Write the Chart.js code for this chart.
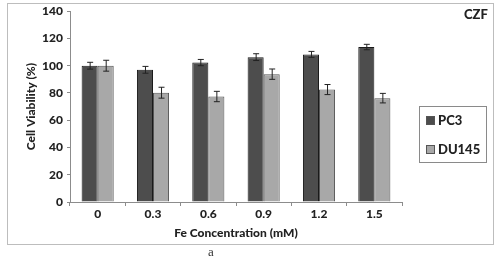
<!DOCTYPE html>
<html>
<head>
<meta charset="utf-8">
<script src="https://cdn.jsdelivr.net/npm/chart.js@4"></script>
<style>
  body { margin: 0; background: #fff; }
  #wrap { position: relative; width: 500px; height: 260px; }
  #frame { position: absolute; left: 7px; top: 3px; width: 485px; height: 240px; border: 1px solid #bdbdbd; }
  #czf { position: absolute; left: 464px; top: 6px; font: 900 13px Lato, sans-serif; color: #222; }
  #legend { position: absolute; left: 419px; top: 106px; width: 66px; height: 55px; border: 1px solid #8a8a8a; font: 900 13px Lato, sans-serif; color: #222; }
  .item { position: absolute; left: 6px; height: 14px; line-height: 14px; }
  .sw { display: inline-block; width: 7px; height: 7px; border: 1px solid #555; margin-right: 3px; vertical-align: 0px; }
  #cap { position: absolute; left: 208px; top: 244px; font: 13px "Liberation Serif", serif; color: #333; }
  canvas { position: absolute; left: 0; top: 0; }
</style>
</head>
<body>
<div id="wrap">
  <div id="frame"></div>
  <canvas id="chart" width="500" height="260"></canvas>
  <div id="czf">CZF</div>
  <div id="legend">
    <div class="item" style="top:6px"><span class="sw" style="background:#4d4d4d"></span>PC3</div>
    <div class="item" style="top:35px"><span class="sw" style="background:#a8a8a8"></span>DU145</div>
  </div>
  <div id="cap">a</div>
</div>
<script>
var concentrations = ['0', '0.3', '0.6', '0.9', '1.2', '1.5'];
var pc3Values = [100, 97, 102.3, 106.3, 108.3, 113.7];
var pc3Errors = [2.5, 2.5, 2.3, 2.5, 2.2, 2];
var du145Values = [100, 80.2, 77.4, 93.8, 82.5, 76.2];
var du145Errors = [4, 4, 3.8, 3.8, 3.7, 3.5];
var yTicks = [0, 20, 40, 60, 80, 100, 120, 140];

var tickFont = { family: 'Lato', size: 12, weight: '900' };

// draws the +/- error whiskers on each bar, using the chart's own y scale
var errorBars = {
    id: 'errorBars',
    afterDatasetsDraw: function(chart) {
        var ctx = chart.ctx;
        var yScale = chart.scales.y;
        chart.data.datasets.forEach(function(ds, i) {
            var meta = chart.getDatasetMeta(i);
            meta.data.forEach(function(bar, j) {
                var v = ds.data[j];
                var e = ds.errors[j];
                var top = yScale.getPixelForValue(v + e);
                var bot = yScale.getPixelForValue(v - e);
                ctx.save();
                ctx.strokeStyle = '#222';
                ctx.lineWidth = 1;
                ctx.beginPath();
                ctx.moveTo(bar.x + 0.5, top);
                ctx.lineTo(bar.x + 0.5, bot);
                ctx.moveTo(bar.x - 2.5, top);
                ctx.lineTo(bar.x + 3.5, top);
                ctx.moveTo(bar.x - 2.5, bot);
                ctx.lineTo(bar.x + 3.5, bot);
                ctx.stroke();
                ctx.restore();
            });
        });
    }
};

var config = {
    type: 'bar',
    data: {
        labels: concentrations,
        datasets: [{
            label: 'PC3',
            data: pc3Values,
            errors: pc3Errors,
            backgroundColor: '#4d4d4d',
            borderColor: '#1a1a1a',
            borderWidth: 1
        }, {
            label: 'DU145',
            data: du145Values,
            errors: du145Errors,
            backgroundColor: '#a8a8a8',
            borderColor: '#555555',
            borderWidth: 1
        }]
    },
    options: {
        responsive: false,
        animation: false,
        layout: { padding: { top: 8, right: 98, left: 0, bottom: 0 } },
        datasets: { bar: { categoryPercentage: 0.58, barPercentage: 1 } },
        plugins: {
            legend: { display: false },
            tooltip: { enabled: false }
        },
        scales: {
            x: {
                afterFit: function(s) { s.height = 58; },
                grid: { drawOnChartArea: false, drawTicks: true, tickLength: 4, color: '#8c8c8c' },
                border: { color: '#8c8c8c' },
                ticks: { color: '#222', font: tickFont, padding: 1 },
                title: { display: true, text: 'Fe Concentration (mM)', color: '#222', font: tickFont, padding: { top: 0, bottom: 20 } }
            },
            y: {
                min: 0,
                max: 140,
                afterFit: function(s) { s.width = 70; },
                afterBuildTicks: function(s) { s.ticks = yTicks.map(function(v) { return { value: v }; }); },
                grid: { drawOnChartArea: false, drawTicks: true, tickLength: 3, color: '#8c8c8c' },
                border: { color: '#8c8c8c' },
                ticks: { color: '#222', font: tickFont, padding: 4 },
                title: { display: true, text: 'Cell Viability (%)', color: '#222', font: tickFont, padding: { top: 24, bottom: 0 } }
            }
        }
    },
    plugins: [errorBars]
};

var chart = new Chart(document.getElementById('chart').getContext('2d'), config);
</script>
</body>
</html>
